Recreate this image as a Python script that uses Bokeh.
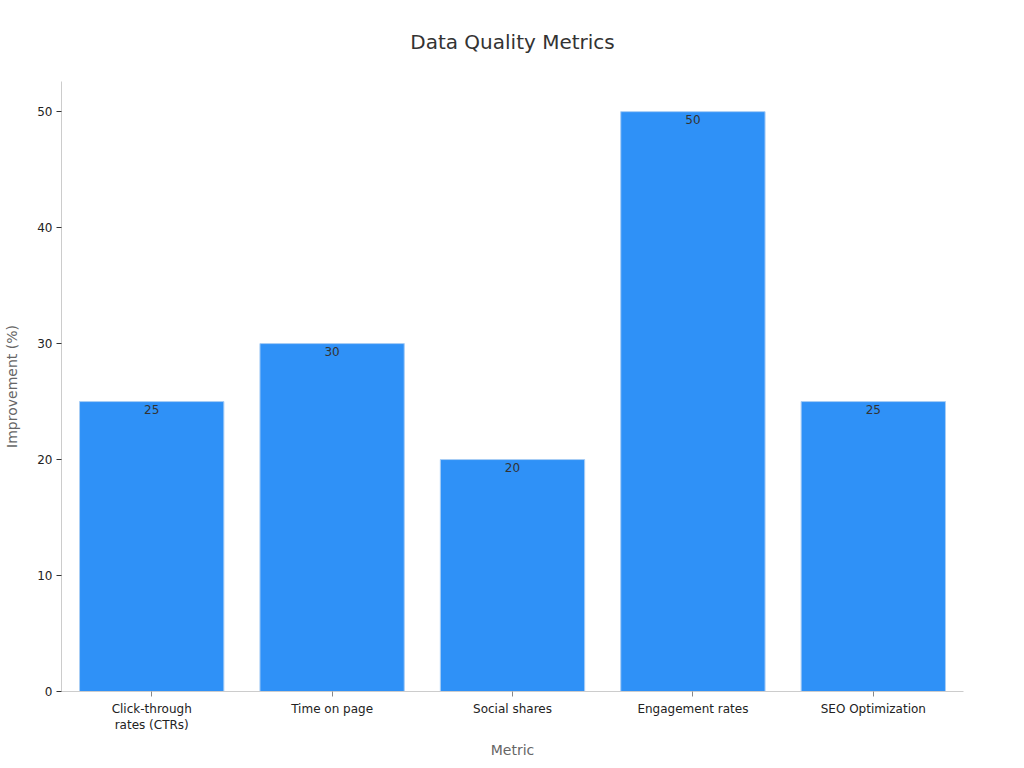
from bokeh.plotting import figure
from bokeh.models import ColumnDataSource, Range1d, FactorRange, FixedTicker
from bokeh.core.properties import value
from bokeh.embed import file_html
from bokeh.resources import INLINE

categories = ["Click-through\nrates (CTRs)", "Time on page", "Social shares", "Engagement rates", "SEO Optimization"]
improvement = [25, 30, 20, 50, 25]
labels = ["25", "30", "20", "50", "25"]
y_ticks = [0, 10, 20, 30, 40, 50]

src = ColumnDataSource(dict(cat=categories, val=improvement, lab=labels))

p = figure(width=1024, height=768, output_backend="svg", toolbar_location=None,
           x_range=FactorRange(factors=categories, range_padding=0),
           y_range=Range1d(0, 52.6),
           min_border_left=61, min_border_right=61, min_border_top=80, min_border_bottom=77)

p.title.text = "Data Quality Metrics"
p.title.align = "center"
p.title.text_font = "DejaVu Sans"
p.title.text_font_size = "20px"
p.title.text_font_style = "normal"
p.title.text_color = "#333333"
p.title.offset = 0
p.title.standoff = 55

p.vbar(x="cat", top="val", width=0.8, source=src, fill_color="#2f91f7",
       line_color="#a8cdf5", line_width=1)
p.text(x="cat", y="val", text="lab", source=src, text_align="center", text_baseline="top",
       y_offset=3, text_font=value("DejaVu Sans"), text_font_size="12px", text_color="#333333")

p.outline_line_color = None
p.xgrid.visible = False
p.ygrid.visible = False

for ax in (p.xaxis[0], p.yaxis[0]):
    ax.axis_line_color = "#cccccc"
    ax.major_label_text_font = "DejaVu Sans"
    ax.major_label_text_font_size = "12px"
    ax.major_label_text_color = "#222222"
    ax.axis_label_text_font = "DejaVu Sans"
    ax.axis_label_text_font_size = "14px"
    ax.axis_label_text_font_style = "normal"
    ax.axis_label_text_color = "#666666"
    ax.minor_tick_line_color = None

p.yaxis.ticker = FixedTicker(ticks=y_ticks)
p.yaxis.major_tick_line_color = "#333333"
p.yaxis.major_tick_out = 5
p.yaxis.major_tick_in = 0
p.yaxis.major_label_standoff = 4
p.yaxis.axis_label = "Improvement (%)"
p.yaxis.axis_label_standoff = 14
p.xaxis.major_tick_line_color = "#888888"
p.xaxis.major_tick_out = 5
p.xaxis.major_tick_in = 0
p.xaxis.axis_label = "Metric"
p.xaxis.axis_label_standoff = 7

open("out.html", "w").write(file_html(p, INLINE))
